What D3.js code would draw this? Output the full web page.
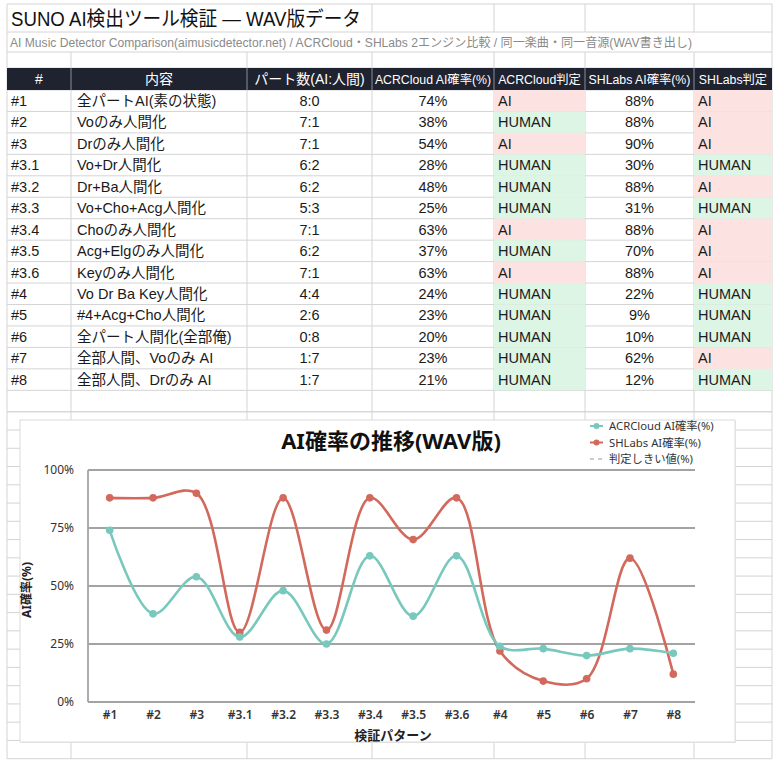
<!DOCTYPE html>
<html lang="ja">
<head>
<meta charset="UTF-8" />
<title>SUNO AI検出ツール検証</title>
<style>
  body { margin: 0; background: #fff; }
  svg { display: block; font-family: "Liberation Sans", "Noto Sans CJK JP", sans-serif; }
</style>
</head>
<body>
<svg width="780" height="766" id="svg"></svg>
<script src="https://cdn.jsdelivr.net/npm/d3@7/dist/d3.min.js"></script>
<script>
const ids = ["#1", "#2", "#3", "#3.1", "#3.2", "#3.3", "#3.4", "#3.5", "#3.6", "#4", "#5", "#6", "#7", "#8"]
const contents = ["全パートAI(素の状態)", "Voのみ人間化", "Drのみ人間化", "Vo+Dr人間化", "Dr+Ba人間化", "Vo+Cho+Acg人間化",
  "Choのみ人間化", "Acg+Elgのみ人間化", "Keyのみ人間化", "Vo Dr Ba Key人間化", "#4+Acg+Cho人間化",
  "全パート人間化(全部俺)", "全部人間、Voのみ AI", "全部人間、Drのみ AI"]
const parts = ["8:0", "7:1", "7:1", "6:2", "6:2", "5:3", "7:1", "6:2", "7:1", "4:4", "2:6", "0:8", "1:7", "1:7"]
const acrValues = [74, 38, 54, 28, 48, 25, 63, 37, 63, 24, 23, 20, 23, 21]
const acrJudge = ["AI", "HUMAN", "AI", "HUMAN", "HUMAN", "HUMAN", "AI", "HUMAN", "AI", "HUMAN", "HUMAN", "HUMAN", "HUMAN", "HUMAN"]
const shlValues = [88, 88, 90, 30, 88, 31, 88, 70, 88, 22, 9, 10, 62, 12]
const shlJudge = ["AI", "AI", "AI", "HUMAN", "AI", "HUMAN", "AI", "AI", "AI", "HUMAN", "HUMAN", "HUMAN", "AI", "HUMAN"]
const headers = ["#", "内容", "パート数(AI:人間)", "ACRCloud AI確率(%)", "ACRCloud判定", "SHLabs AI確率(%)", "SHLabs判定"]
const yTicks = [0, 25, 50, 75, 100]
const seriesNames = ["ACRCloud AI確率(%)", "SHLabs AI確率(%)", "判定しきい値(%)"]

const svg = d3.select("#svg")
const gridColor = "#d4d4d4"
const colX = [7, 71, 247, 372, 494, 585, 694, 772]
const sheetTop = 4, titleBottom = 32, subBottom = 52, headTop = 68, headBottom = 90
const rowH = 21.45

const grid = svg.append("g")

// background fills for judgement cells
const fillOf = v => (v === "AI" ? "#fde2e2" : "#dcf5e4")
const rowsG = svg.append("g")
ids.forEach((id, i) => {
  const y = headBottom + i * rowH
  rowsG.append("rect").attr("x", colX[4]).attr("y", y).attr("width", colX[5] - colX[4]).attr("height", rowH).attr("fill", fillOf(acrJudge[i]))
  rowsG.append("rect").attr("x", colX[6]).attr("y", y).attr("width", colX[7] - colX[6]).attr("height", rowH).attr("fill", fillOf(shlJudge[i]))
})

// header bar
svg.append("rect").attr("x", colX[0]).attr("y", headTop).attr("width", colX[7] - colX[0]).attr("height", headBottom - headTop).attr("fill", "#1f2330")

// horizontal grid lines
const hLines = [sheetTop, titleBottom, subBottom, headTop]
d3.range(ids.length + 2).forEach(i => hLines.push(headBottom + i * rowH))
const lowerTop = headBottom + rowH * (ids.length + 1)
const lowerRowH = 18.26
d3.range(20).forEach(i => hLines.push(lowerTop + i * lowerRowH))
const gridBottom = lowerTop + 19 * lowerRowH
grid.selectAll("line.h").data(hLines).join("line")
  .attr("x1", colX[0]).attr("x2", colX[7]).attr("y1", d => d).attr("y2", d => d)
  .attr("stroke", gridColor).attr("stroke-width", 1)

// vertical grid lines
colX.forEach((x, i) => {
  if (i === 0 || i === 7) {
    grid.append("line").attr("x1", x).attr("x2", x).attr("y1", sheetTop).attr("y2", gridBottom).attr("stroke", gridColor)
    return
  }
  if (i >= 3) grid.append("line").attr("x1", x).attr("x2", x).attr("y1", sheetTop).attr("y2", titleBottom).attr("stroke", gridColor)
  grid.append("line").attr("x1", x).attr("x2", x).attr("y1", subBottom).attr("y2", gridBottom).attr("stroke", gridColor)
})
// header separators
colX.slice(1, 7).forEach(x => {
  svg.append("line").attr("x1", x).attr("x2", x).attr("y1", headTop).attr("y2", headBottom).attr("stroke", "#8a8e99")
})

// title texts
svg.append("text").attr("x", 11).attr("y", 26).attr("font-size", 20).attr("fill", "#111")
  .attr("textLength", 350).attr("lengthAdjust", "spacingAndGlyphs")
  .text("SUNO AI検出ツール検証 — WAV版データ")
svg.append("text").attr("x", 10).attr("y", 47).attr("font-size", 12.3).attr("fill", "#8a8a8a")
  .attr("textLength", 682).attr("lengthAdjust", "spacingAndGlyphs")
  .text("AI Music Detector Comparison(aimusicdetector.net) / ACRCloud・SHLabs 2エンジン比較 / 同一楽曲・同一音源(WAV書き出し)")

// header texts
headers.forEach((h, i) => {
  svg.append("text").attr("x", (colX[i] + colX[i + 1]) / 2).attr("y", headBottom - 6)
    .attr("text-anchor", "middle").attr("fill", "#fff")
    .attr("font-size", i >= 3 ? 12.3 : 14).text(h)
})

// data rows
ids.forEach((id, i) => {
  const y = headBottom + i * rowH + rowH - 5.5
  const g = rowsG.append("g").attr("font-size", 14.5).attr("fill", "#1a1a1a")
  g.append("text").attr("x", colX[0] + 4).attr("y", y).text(id)
  g.append("text").attr("x", colX[1] + 6).attr("y", y).text(contents[i])
  g.append("text").attr("x", (colX[2] + colX[3]) / 2).attr("y", y).attr("text-anchor", "middle").text(parts[i])
  g.append("text").attr("x", (colX[3] + colX[4]) / 2).attr("y", y).attr("text-anchor", "middle").text(acrValues[i] + "%")
  g.append("text").attr("x", colX[4] + 4).attr("y", y).text(acrJudge[i])
  g.append("text").attr("x", (colX[5] + colX[6]) / 2).attr("y", y).attr("text-anchor", "middle").text(shlValues[i] + "%")
  g.append("text").attr("x", colX[6] + 4).attr("y", y).text(shlJudge[i])
})

// ---- chart ----
const box = { x: 20, y: 420, w: 715, h: 322 }
const chart = svg.append("g").attr("font-family", "'Noto Sans', 'Noto Sans CJK JP', sans-serif")
chart.append("rect").attr("x", box.x + 1).attr("y", box.y + 1).attr("width", box.w).attr("height", box.h).attr("fill", "#e6e6e6")
chart.append("rect").attr("x", box.x).attr("y", box.y).attr("width", box.w).attr("height", box.h)
  .attr("fill", "#fff").attr("stroke", "#dcdcdc")

const plot = { left: 88, right: 695, top: 470, bottom: 702 }
const x = d3.scalePoint().domain(ids).range([plot.left, plot.right]).padding(0.5)
const y = d3.scaleLinear().domain([0, 100]).range([plot.bottom, plot.top])

chart.append("text").attr("x", 391).attr("y", 449).attr("text-anchor", "middle")
  .attr("font-size", 22).attr("font-weight", "bold").attr("fill", "#111").text("AI確率の推移(WAV版)")

// gridlines
chart.append("g").selectAll("line").data(yTicks).join("line")
  .attr("x1", plot.left).attr("x2", plot.right).attr("y1", d => y(d)).attr("y2", d => y(d))
  .attr("stroke", "#a3a3a3").attr("stroke-width", 1.8)
chart.append("line").attr("x1", plot.left).attr("x2", plot.left).attr("y1", plot.top).attr("y2", plot.bottom)
  .attr("stroke", "#a3a3a3").attr("stroke-width", 1.8)

const yAxis = chart.append("g").attr("transform", `translate(${plot.left},0)`)
  .call(d3.axisLeft(y).tickValues(yTicks).tickFormat(d => d + "%").tickSize(0).tickPadding(14))
yAxis.select(".domain").remove()
yAxis.selectAll("text").attr("font-size", 12).attr("fill", "#333").attr("font-family", "'Noto Sans', sans-serif")

const xAxis = chart.append("g").attr("transform", `translate(0,${plot.bottom})`)
  .call(d3.axisBottom(x).tickSize(0).tickPadding(8))
xAxis.select(".domain").remove()
xAxis.selectAll("text").attr("font-size", 12).attr("font-weight", 600).attr("fill", "#333").attr("font-family", "'Noto Sans', sans-serif")

chart.append("text").attr("transform", "translate(31,590) rotate(-90)").attr("text-anchor", "middle")
  .attr("font-size", 12).attr("font-weight", "bold").attr("fill", "#222").text("AI確率(%)")
chart.append("text").attr("x", 393).attr("y", 740).attr("text-anchor", "middle")
  .attr("font-size", 13).attr("font-weight", "bold").attr("fill", "#222").text("検証パターン")

const series = [
  { name: seriesNames[0], values: acrValues, color: "#78c8bd" },
  { name: seriesNames[1], values: shlValues, color: "#d2695c" }
]
const line = d3.line().x((d, i) => x(ids[i])).y(d => y(d)).curve(d3.curveCatmullRom.alpha(0.5))
series.slice().reverse().forEach(s => {
  const g = chart.append("g")
  g.append("path").attr("d", line(s.values)).attr("fill", "none").attr("stroke", s.color).attr("stroke-width", 2.6)
  g.selectAll("circle").data(s.values).join("circle")
    .attr("cx", (d, i) => x(ids[i])).attr("cy", d => y(d)).attr("r", 3.8).attr("fill", s.color)
})

// legend
const legend = chart.append("g").attr("font-size", 11.3).attr("fill", "#333")
seriesNames.forEach((name, i) => {
  const ly = 426 + i * 16.5
  if (i < 2) {
    legend.append("line").attr("x1", 590).attr("x2", 603).attr("y1", ly).attr("y2", ly).attr("stroke", series[i].color).attr("stroke-width", 2)
    legend.append("circle").attr("cx", 596.5).attr("cy", ly).attr("r", 3).attr("fill", series[i].color)
  } else {
    legend.append("line").attr("x1", 590).attr("x2", 603).attr("y1", ly).attr("y2", ly)
      .attr("stroke", "#999").attr("stroke-width", 1.2).attr("stroke-dasharray", "4,4")
  }
  legend.append("text").attr("x", 609).attr("y", ly + 4).text(name)
})
</script>
</body>
</html>
